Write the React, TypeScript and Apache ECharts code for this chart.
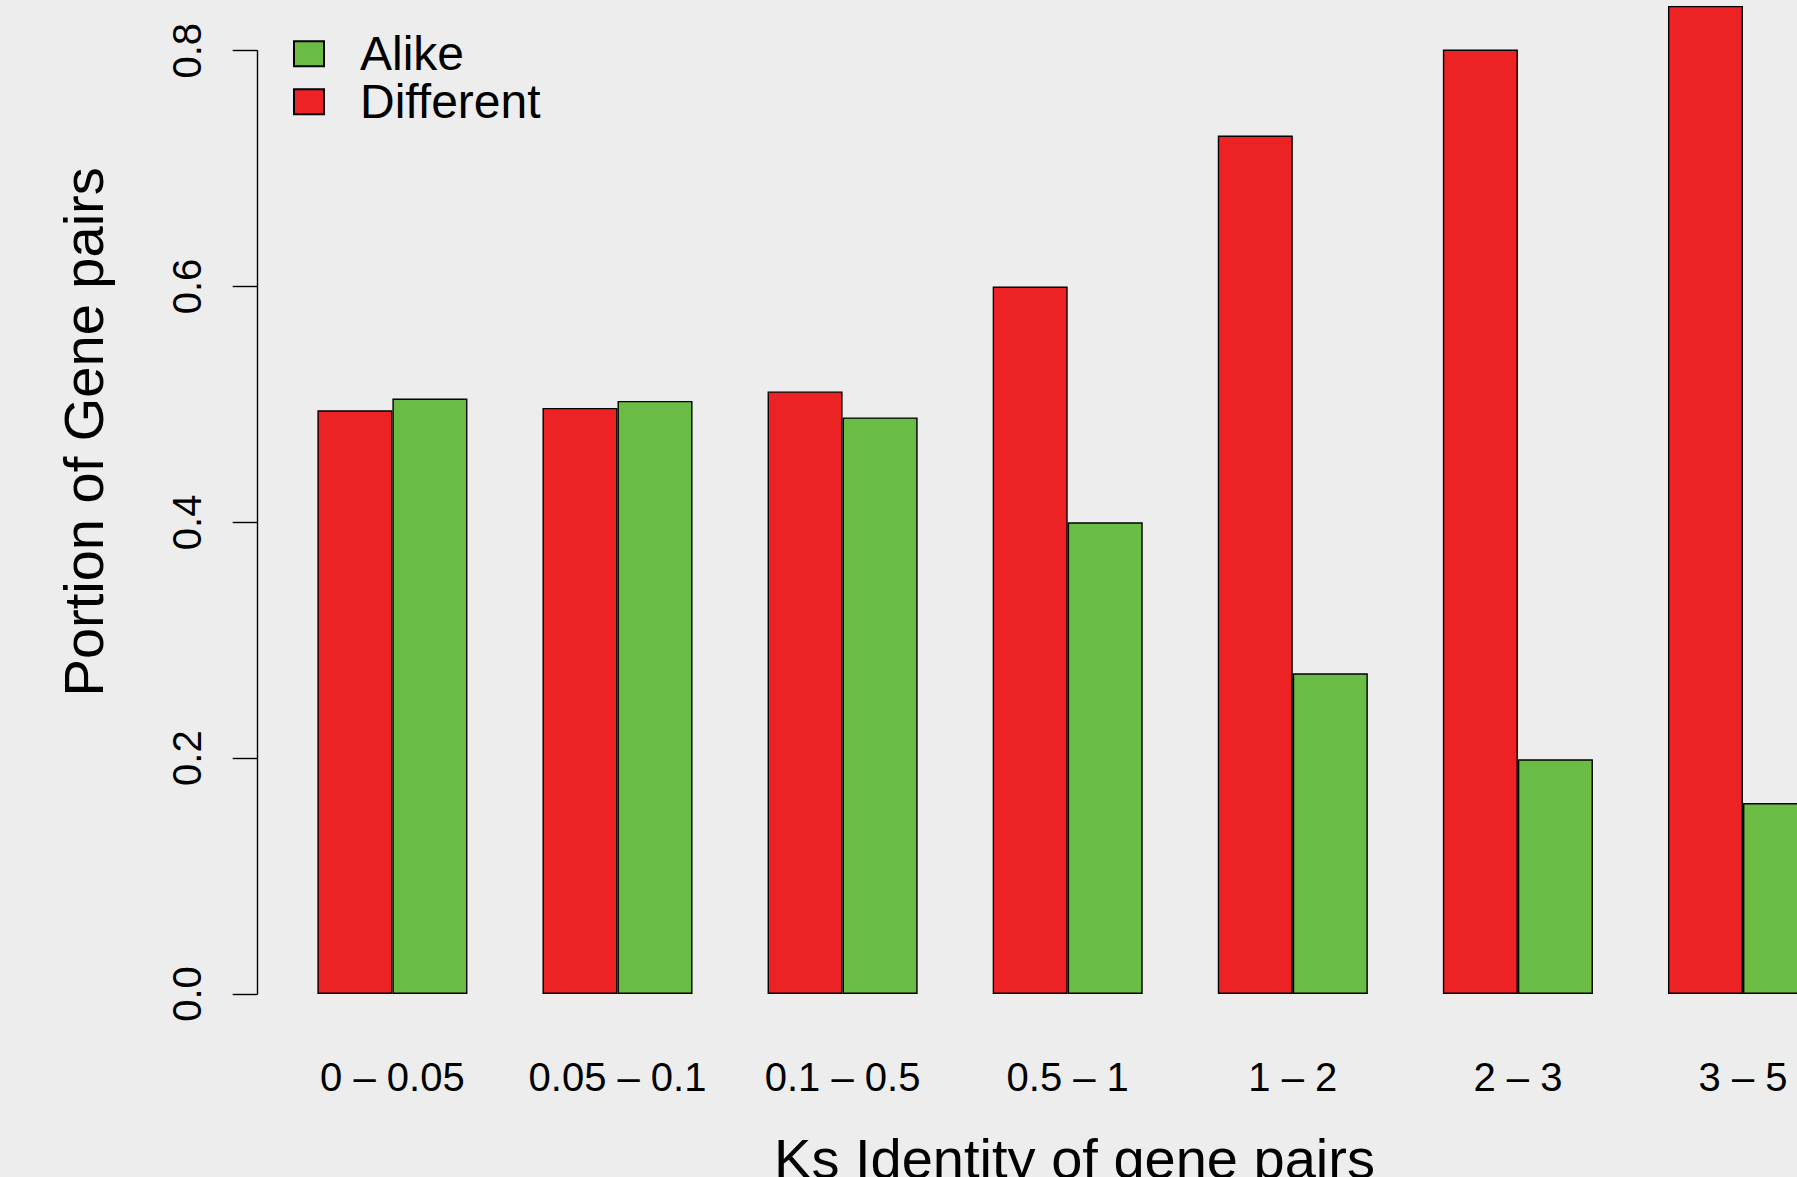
import React, { useEffect, useRef } from "react";
import * as echarts from "echarts";

const categories = ["0 – 0.05", "0.05 – 0.1", "0.1 – 0.5", "0.5 – 1", "1 – 2", "2 – 3", "3 – 5"];
const differentValues = [0.495, 0.497, 0.511, 0.6, 0.728, 0.801, 0.838];
const alikeValues = [0.505, 0.503, 0.489, 0.4, 0.272, 0.199, 0.162];
const seriesNames = ["Alike", "Different"];
const yTicks = { min: 0, max: 0.8, interval: 0.2 };
const xTitle = "Ks Identity of gene pairs";
const yTitle = "Portion of Gene pairs";

const RED = "#ED2224";
const GREEN = "#6BBC45";
const BG = "#EDEDED";
const FONT = "Liberation Sans, Arial, Helvetica, sans-serif";

export default function App() {
  const ref = useRef<HTMLDivElement>(null);
  useEffect(() => {
    if (!ref.current) return;
    const chart = echarts.init(ref.current, null, { renderer: "svg" });
    const gridLeft = 279.85;
    const bandW = 225.1;
    chart.setOption({
      animation: false,
      backgroundColor: BG,
      textStyle: { fontFamily: FONT },
      grid: {
        left: gridLeft,
        top: 50.7,
        width: bandW * categories.length,
        height: 943.3,
        containLabel: false,
        outerBoundsMode: "none",
      },
      legend: {
        data: seriesNames,
        orient: "vertical",
        left: 293,
        top: 29.8,
        padding: 0,
        itemGap: 0,
        itemWidth: 30,
        itemHeight: 25,
        icon: "rect",
        textStyle: {
          fontFamily: FONT,
          fontSize: 48,
          lineHeight: 48,
          color: "#000",
          padding: [0, 0, 0, 31],
        },
      },
      xAxis: {
        type: "category",
        data: categories,
        axisLine: { show: false },
        axisTick: { show: false },
        axisLabel: {
          interval: 0,
          fontSize: 40,
          color: "#000",
          margin: 63,
          fontFamily: FONT,
        },
        name: xTitle,
        nameLocation: "middle",
        nameGap: 136,
        nameTextStyle: {
          fontSize: 56,
          color: "#000",
          fontFamily: FONT,
          padding: [0, 0, 0, 13.6],
        },
      },
      yAxis: {
        type: "value",
        min: yTicks.min,
        max: yTicks.max,
        interval: yTicks.interval,
        offset: 22.65,
        splitLine: { show: false },
        axisLine: { show: true, lineStyle: { color: "#000", width: 1.4 } },
        axisTick: { show: true, length: 24.5, lineStyle: { color: "#000", width: 1.4 } },
        axisLabel: {
          rotate: 90,
          fontSize: 40,
          color: "#000",
          margin: 50,
          fontFamily: FONT,
          formatter: (v: number) => v.toFixed(1),
        },
        name: yTitle,
        nameLocation: "middle",
        nameGap: 145.7,
        nameTextStyle: {
          fontSize: 56,
          color: "#000",
          fontFamily: FONT,
          padding: [0, 0, 0, 181],
        },
      },
      series: [
        {
          name: "Different",
          type: "bar",
          data: differentValues,
          barWidth: 75.03,
          barGap: "0%",
          clip: false,
          itemStyle: { color: RED, borderColor: "#000", borderWidth: 1.4 },
        },
        {
          name: "Alike",
          type: "bar",
          data: alikeValues,
          barWidth: 75.03,
          barGap: "0%",
          clip: false,
          itemStyle: { color: GREEN, borderColor: "#000", borderWidth: 1.4 },
        },
      ],
    });
    return () => chart.dispose();
  }, []);
  return (
    <div
      ref={ref}
      style={{ position: "fixed", left: 0, top: 0, width: 1797, height: 1177 }}
    />
  );
}
